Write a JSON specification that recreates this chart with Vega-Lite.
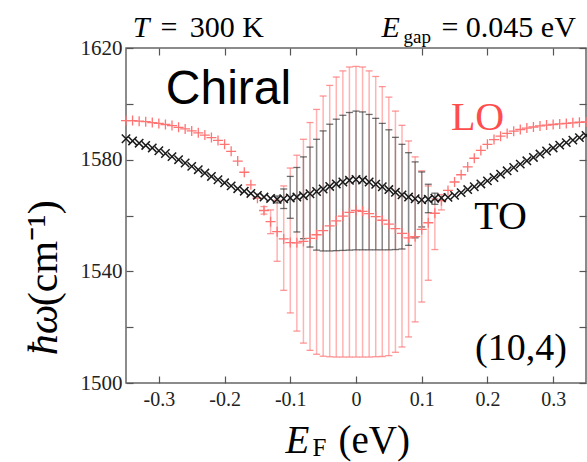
{
  "$schema": "https://vega.github.io/schema/vega-lite/v6.json",
  "width": 460,
  "height": 335,
  "autosize": {"type": "none"},
  "padding": {"left": 126, "top": 48, "right": 1, "bottom": 79},
  "background": "white",
  "config": {
    "view": {"stroke": "#666666", "strokeWidth": 1.5},
    "axis": {"labelFont": "Liberation Serif", "labelFontSize": 20, "labelColor": "#222222", "tickColor": "#555555", "tickWidth": 1.2, "tickSize": -7, "domain": false, "grid": false, "title": null}
  },
  "datasets": {
    "pts": [
      {"m":"LO","E":-0.35,"w":1594.0,"lo":1594.0,"hi":1594.0},
      {"m":"LO","E":-0.34,"w":1594.0,"lo":1594.0,"hi":1594.0},
      {"m":"LO","E":-0.33,"w":1593.8,"lo":1593.8,"hi":1593.8},
      {"m":"LO","E":-0.32,"w":1593.6,"lo":1593.6,"hi":1593.6},
      {"m":"LO","E":-0.31,"w":1593.3,"lo":1593.3,"hi":1593.3},
      {"m":"LO","E":-0.30,"w":1593.0,"lo":1593.0,"hi":1593.0},
      {"m":"LO","E":-0.29,"w":1592.6,"lo":1592.6,"hi":1592.6},
      {"m":"LO","E":-0.28,"w":1592.2,"lo":1592.2,"hi":1592.2},
      {"m":"LO","E":-0.27,"w":1591.6,"lo":1591.6,"hi":1591.6},
      {"m":"LO","E":-0.26,"w":1591.0,"lo":1591.0,"hi":1591.0},
      {"m":"LO","E":-0.25,"w":1590.3,"lo":1590.3,"hi":1590.3},
      {"m":"LO","E":-0.24,"w":1589.6,"lo":1589.6,"hi":1589.6},
      {"m":"LO","E":-0.23,"w":1588.8,"lo":1588.8,"hi":1588.8},
      {"m":"LO","E":-0.22,"w":1587.9,"lo":1587.9,"hi":1587.9},
      {"m":"LO","E":-0.21,"w":1586.9,"lo":1586.9,"hi":1586.9},
      {"m":"LO","E":-0.20,"w":1585.5,"lo":1585.5,"hi":1585.5},
      {"m":"LO","E":-0.19,"w":1583.0,"lo":1583.0,"hi":1583.0},
      {"m":"LO","E":-0.18,"w":1579.5,"lo":1579.5,"hi":1579.5},
      {"m":"LO","E":-0.17,"w":1575.5,"lo":1575.5,"hi":1575.5},
      {"m":"LO","E":-0.16,"w":1571.0,"lo":1571.0,"hi":1571.0},
      {"m":"LO","E":-0.15,"w":1566.2,"lo":1566.2,"hi":1566.2},
      {"m":"LO","E":-0.14,"w":1561.8,"lo":1560.5,"hi":1563.2},
      {"m":"LO","E":-0.13,"w":1557.8,"lo":1553.5,"hi":1562.0},
      {"m":"LO","E":-0.12,"w":1554.2,"lo":1543.6,"hi":1565.5},
      {"m":"LO","E":-0.11,"w":1551.6,"lo":1533.2,"hi":1570.6},
      {"m":"LO","E":-0.10,"w":1550.3,"lo":1525.1,"hi":1577.0},
      {"m":"LO","E":-0.09,"w":1550.2,"lo":1518.6,"hi":1581.6},
      {"m":"LO","E":-0.08,"w":1550.7,"lo":1514.3,"hi":1587.3},
      {"m":"LO","E":-0.07,"w":1551.8,"lo":1511.7,"hi":1593.3},
      {"m":"LO","E":-0.06,"w":1553.1,"lo":1510.3,"hi":1598.0},
      {"m":"LO","E":-0.05,"w":1554.6,"lo":1509.6,"hi":1602.8},
      {"m":"LO","E":-0.04,"w":1556.3,"lo":1509.4,"hi":1606.6},
      {"m":"LO","E":-0.03,"w":1558.1,"lo":1509.3,"hi":1609.6},
      {"m":"LO","E":-0.02,"w":1559.8,"lo":1509.3,"hi":1611.8},
      {"m":"LO","E":-0.01,"w":1561.1,"lo":1509.3,"hi":1613.2},
      {"m":"LO","E":0.00,"w":1561.8,"lo":1509.3,"hi":1613.4},
      {"m":"LO","E":0.01,"w":1561.5,"lo":1509.3,"hi":1613.2},
      {"m":"LO","E":0.02,"w":1560.7,"lo":1509.3,"hi":1611.8},
      {"m":"LO","E":0.03,"w":1559.6,"lo":1509.4,"hi":1609.8},
      {"m":"LO","E":0.04,"w":1558.3,"lo":1509.5,"hi":1606.2},
      {"m":"LO","E":0.05,"w":1556.9,"lo":1509.8,"hi":1602.4},
      {"m":"LO","E":0.06,"w":1555.3,"lo":1511.0,"hi":1597.4},
      {"m":"LO","E":0.07,"w":1553.6,"lo":1512.9,"hi":1592.3},
      {"m":"LO","E":0.08,"w":1552.0,"lo":1516.5,"hi":1586.7},
      {"m":"LO","E":0.09,"w":1552.4,"lo":1521.9,"hi":1581.0},
      {"m":"LO","E":0.10,"w":1555.0,"lo":1529.0,"hi":1576.0},
      {"m":"LO","E":0.11,"w":1557.4,"lo":1536.8,"hi":1570.6},
      {"m":"LO","E":0.12,"w":1560.8,"lo":1547.8,"hi":1566.0},
      {"m":"LO","E":0.13,"w":1565.3,"lo":1562.0,"hi":1567.5},
      {"m":"LO","E":0.14,"w":1569.0,"lo":1569.0,"hi":1569.0},
      {"m":"LO","E":0.15,"w":1572.0,"lo":1572.0,"hi":1572.0},
      {"m":"LO","E":0.16,"w":1574.6,"lo":1574.6,"hi":1574.6},
      {"m":"LO","E":0.17,"w":1577.4,"lo":1577.4,"hi":1577.4},
      {"m":"LO","E":0.18,"w":1580.5,"lo":1580.5,"hi":1580.5},
      {"m":"LO","E":0.19,"w":1583.3,"lo":1583.3,"hi":1583.3},
      {"m":"LO","E":0.20,"w":1585.5,"lo":1585.5,"hi":1585.5},
      {"m":"LO","E":0.21,"w":1587.2,"lo":1587.2,"hi":1587.2},
      {"m":"LO","E":0.22,"w":1588.4,"lo":1588.4,"hi":1588.4},
      {"m":"LO","E":0.23,"w":1589.4,"lo":1589.4,"hi":1589.4},
      {"m":"LO","E":0.24,"w":1590.2,"lo":1590.2,"hi":1590.2},
      {"m":"LO","E":0.25,"w":1590.8,"lo":1590.8,"hi":1590.8},
      {"m":"LO","E":0.26,"w":1591.3,"lo":1591.3,"hi":1591.3},
      {"m":"LO","E":0.27,"w":1591.7,"lo":1591.7,"hi":1591.7},
      {"m":"LO","E":0.28,"w":1592.1,"lo":1592.1,"hi":1592.1},
      {"m":"LO","E":0.29,"w":1592.4,"lo":1592.4,"hi":1592.4},
      {"m":"LO","E":0.30,"w":1592.6,"lo":1592.6,"hi":1592.6},
      {"m":"LO","E":0.31,"w":1592.8,"lo":1592.8,"hi":1592.8},
      {"m":"LO","E":0.32,"w":1593.0,"lo":1593.0,"hi":1593.0},
      {"m":"LO","E":0.33,"w":1593.2,"lo":1593.2,"hi":1593.2},
      {"m":"LO","E":0.34,"w":1593.4,"lo":1593.4,"hi":1593.4},
      {"m":"LO","E":0.35,"w":1593.5,"lo":1593.5,"hi":1593.5},
      {"m":"TO","E":-0.35,"w":1587.5,"lo":1587.5,"hi":1587.5},
      {"m":"TO","E":-0.34,"w":1586.7,"lo":1586.7,"hi":1586.7},
      {"m":"TO","E":-0.33,"w":1585.9,"lo":1585.9,"hi":1585.9},
      {"m":"TO","E":-0.32,"w":1585.1,"lo":1585.1,"hi":1585.1},
      {"m":"TO","E":-0.31,"w":1584.2,"lo":1584.2,"hi":1584.2},
      {"m":"TO","E":-0.30,"w":1583.2,"lo":1583.2,"hi":1583.2},
      {"m":"TO","E":-0.29,"w":1582.2,"lo":1582.2,"hi":1582.2},
      {"m":"TO","E":-0.28,"w":1581.1,"lo":1581.1,"hi":1581.1},
      {"m":"TO","E":-0.27,"w":1580.0,"lo":1580.0,"hi":1580.0},
      {"m":"TO","E":-0.26,"w":1578.8,"lo":1578.8,"hi":1578.8},
      {"m":"TO","E":-0.25,"w":1577.6,"lo":1577.6,"hi":1577.6},
      {"m":"TO","E":-0.24,"w":1576.4,"lo":1576.4,"hi":1576.4},
      {"m":"TO","E":-0.23,"w":1575.2,"lo":1575.2,"hi":1575.2},
      {"m":"TO","E":-0.22,"w":1574.0,"lo":1574.0,"hi":1574.0},
      {"m":"TO","E":-0.21,"w":1572.8,"lo":1572.8,"hi":1572.8},
      {"m":"TO","E":-0.20,"w":1571.7,"lo":1571.7,"hi":1571.7},
      {"m":"TO","E":-0.19,"w":1570.6,"lo":1570.6,"hi":1570.6},
      {"m":"TO","E":-0.18,"w":1569.6,"lo":1569.6,"hi":1569.6},
      {"m":"TO","E":-0.17,"w":1568.7,"lo":1568.7,"hi":1568.7},
      {"m":"TO","E":-0.16,"w":1567.9,"lo":1567.9,"hi":1567.9},
      {"m":"TO","E":-0.15,"w":1567.2,"lo":1567.2,"hi":1567.2},
      {"m":"TO","E":-0.14,"w":1566.6,"lo":1566.6,"hi":1566.6},
      {"m":"TO","E":-0.13,"w":1566.1,"lo":1566.1,"hi":1566.1},
      {"m":"TO","E":-0.12,"w":1565.8,"lo":1564.5,"hi":1567.0},
      {"m":"TO","E":-0.11,"w":1566.0,"lo":1562.5,"hi":1569.5},
      {"m":"TO","E":-0.10,"w":1566.3,"lo":1559.0,"hi":1574.0},
      {"m":"TO","E":-0.09,"w":1566.6,"lo":1554.1,"hi":1577.2},
      {"m":"TO","E":-0.08,"w":1567.1,"lo":1551.7,"hi":1581.0},
      {"m":"TO","E":-0.07,"w":1567.8,"lo":1548.7,"hi":1584.5},
      {"m":"TO","E":-0.06,"w":1568.6,"lo":1547.6,"hi":1587.3},
      {"m":"TO","E":-0.05,"w":1569.5,"lo":1547.3,"hi":1590.3},
      {"m":"TO","E":-0.04,"w":1570.4,"lo":1547.3,"hi":1592.7},
      {"m":"TO","E":-0.03,"w":1571.3,"lo":1547.4,"hi":1594.5},
      {"m":"TO","E":-0.02,"w":1572.0,"lo":1547.5,"hi":1595.9},
      {"m":"TO","E":-0.01,"w":1572.6,"lo":1547.6,"hi":1596.9},
      {"m":"TO","E":0.00,"w":1572.9,"lo":1547.7,"hi":1597.4},
      {"m":"TO","E":0.01,"w":1572.7,"lo":1547.7,"hi":1597.1},
      {"m":"TO","E":0.02,"w":1572.0,"lo":1547.7,"hi":1596.2},
      {"m":"TO","E":0.03,"w":1571.2,"lo":1547.7,"hi":1594.8},
      {"m":"TO","E":0.04,"w":1570.3,"lo":1547.7,"hi":1593.0},
      {"m":"TO","E":0.05,"w":1569.3,"lo":1547.7,"hi":1590.7},
      {"m":"TO","E":0.06,"w":1568.3,"lo":1547.8,"hi":1588.0},
      {"m":"TO","E":0.07,"w":1567.4,"lo":1548.0,"hi":1585.5},
      {"m":"TO","E":0.08,"w":1566.6,"lo":1549.3,"hi":1582.5},
      {"m":"TO","E":0.09,"w":1566.0,"lo":1552.0,"hi":1579.2},
      {"m":"TO","E":0.10,"w":1565.6,"lo":1555.9,"hi":1575.6},
      {"m":"TO","E":0.11,"w":1565.8,"lo":1561.0,"hi":1571.2},
      {"m":"TO","E":0.12,"w":1566.2,"lo":1564.0,"hi":1568.0},
      {"m":"TO","E":0.13,"w":1566.3,"lo":1566.3,"hi":1566.3},
      {"m":"TO","E":0.14,"w":1566.5,"lo":1566.5,"hi":1566.5},
      {"m":"TO","E":0.15,"w":1567.2,"lo":1567.2,"hi":1567.2},
      {"m":"TO","E":0.16,"w":1568.2,"lo":1568.2,"hi":1568.2},
      {"m":"TO","E":0.17,"w":1569.3,"lo":1569.3,"hi":1569.3},
      {"m":"TO","E":0.18,"w":1570.3,"lo":1570.3,"hi":1570.3},
      {"m":"TO","E":0.19,"w":1571.3,"lo":1571.3,"hi":1571.3},
      {"m":"TO","E":0.20,"w":1572.4,"lo":1572.4,"hi":1572.4},
      {"m":"TO","E":0.21,"w":1573.6,"lo":1573.6,"hi":1573.6},
      {"m":"TO","E":0.22,"w":1574.8,"lo":1574.8,"hi":1574.8},
      {"m":"TO","E":0.23,"w":1576.0,"lo":1576.0,"hi":1576.0},
      {"m":"TO","E":0.24,"w":1577.2,"lo":1577.2,"hi":1577.2},
      {"m":"TO","E":0.25,"w":1578.4,"lo":1578.4,"hi":1578.4},
      {"m":"TO","E":0.26,"w":1579.6,"lo":1579.6,"hi":1579.6},
      {"m":"TO","E":0.27,"w":1580.8,"lo":1580.8,"hi":1580.8},
      {"m":"TO","E":0.28,"w":1582.0,"lo":1582.0,"hi":1582.0},
      {"m":"TO","E":0.29,"w":1583.1,"lo":1583.1,"hi":1583.1},
      {"m":"TO","E":0.30,"w":1584.2,"lo":1584.2,"hi":1584.2},
      {"m":"TO","E":0.31,"w":1585.2,"lo":1585.2,"hi":1585.2},
      {"m":"TO","E":0.32,"w":1586.1,"lo":1586.1,"hi":1586.1},
      {"m":"TO","E":0.33,"w":1587.0,"lo":1587.0,"hi":1587.0},
      {"m":"TO","E":0.34,"w":1587.9,"lo":1587.9,"hi":1587.9},
      {"m":"TO","E":0.35,"w":1588.7,"lo":1588.7,"hi":1588.7}
    ]
  },
  "layer": [
    {
      "data": {"name": "pts"},
      "layer": [
        {
          "transform": [{"filter": "datum.m == 'LO' && datum.hi > datum.lo"}],
          "mark": {"type": "rule", "color": "#ffb3b3", "strokeWidth": 1.5},
          "encoding": {
            "x": {"field": "E", "type": "quantitative", "scale": {"domain": [-0.35, 0.35], "nice": false, "zero": false},
              "axis": {"orient": "bottom", "values": [-0.3, -0.2, -0.1, 0, 0.1, 0.2, 0.3], "labelPadding": 13,
                "labelFont": "Liberation Serif", "labelFontSize": 20,
                "labelExpr": "abs(datum.value) < 1e-9 ? '0' : replace(format(datum.value, '.1f'), '\u2212', '-')"}},
            "y": {"field": "lo", "type": "quantitative", "scale": {"domain": [1500, 1620], "nice": false, "zero": false},
              "axis": {"orient": "left", "values": [1500, 1520, 1540, 1560, 1580, 1600, 1620], "labelPadding": 11,
                "labelFont": "Liberation Serif", "labelFontSize": 21,
                "labelExpr": "(datum.value - 1500) % 40 == 0 ? '' + datum.value : ''"}},
            "y2": {"field": "hi"}
          }
        },
        {
          "transform": [{"filter": "datum.m == 'TO' && datum.hi > datum.lo"}],
          "mark": {"type": "rule", "color": "#8a8a8a", "strokeWidth": 1.4},
          "encoding": {
            "x": {"field": "E", "type": "quantitative", "scale": {"domain": [-0.35, 0.35], "nice": false, "zero": false}},
            "y": {"field": "lo", "type": "quantitative", "scale": {"domain": [1500, 1620], "nice": false, "zero": false}},
            "y2": {"field": "hi"}
          }
        },
        {
          "transform": [{"filter": "datum.m == 'LO' && datum.hi > datum.lo"}],
          "mark": {"type": "tick", "orient": "horizontal", "color": "#ff6a6a", "size": 7, "thickness": 1.3},
          "encoding": {
            "x": {"field": "E", "type": "quantitative", "scale": {"domain": [-0.35, 0.35], "nice": false, "zero": false}},
            "y": {"field": "lo", "type": "quantitative", "scale": {"domain": [1500, 1620], "nice": false, "zero": false}}
          }
        },
        {
          "transform": [{"filter": "datum.m == 'LO' && datum.hi > datum.lo"}],
          "mark": {"type": "tick", "orient": "horizontal", "color": "#ff6a6a", "size": 7, "thickness": 1.3},
          "encoding": {
            "x": {"field": "E", "type": "quantitative", "scale": {"domain": [-0.35, 0.35], "nice": false, "zero": false}},
            "y": {"field": "hi", "type": "quantitative", "scale": {"domain": [1500, 1620], "nice": false, "zero": false}}
          }
        },
        {
          "transform": [{"filter": "datum.m == 'TO' && datum.hi > datum.lo"}],
          "mark": {"type": "tick", "orient": "horizontal", "color": "#333333", "size": 7, "thickness": 1.3},
          "encoding": {
            "x": {"field": "E", "type": "quantitative", "scale": {"domain": [-0.35, 0.35], "nice": false, "zero": false}},
            "y": {"field": "lo", "type": "quantitative", "scale": {"domain": [1500, 1620], "nice": false, "zero": false}}
          }
        },
        {
          "transform": [{"filter": "datum.m == 'TO' && datum.hi > datum.lo"}],
          "mark": {"type": "tick", "orient": "horizontal", "color": "#333333", "size": 7, "thickness": 1.3},
          "encoding": {
            "x": {"field": "E", "type": "quantitative", "scale": {"domain": [-0.35, 0.35], "nice": false, "zero": false}},
            "y": {"field": "hi", "type": "quantitative", "scale": {"domain": [1500, 1620], "nice": false, "zero": false}}
          }
        },
        {
          "transform": [{"filter": "datum.m == 'LO'"}],
          "mark": {"type": "point", "shape": "M-1,0L1,0M0,-1L0,1", "filled": false, "stroke": "#ff7373", "strokeWidth": 1.3, "size": 100, "opacity": 1},
          "encoding": {
            "x": {"field": "E", "type": "quantitative", "scale": {"domain": [-0.35, 0.35], "nice": false, "zero": false}},
            "y": {"field": "w", "type": "quantitative", "scale": {"domain": [1500, 1620], "nice": false, "zero": false}}
          }
        },
        {
          "transform": [{"filter": "datum.m == 'TO'"}],
          "mark": {"type": "point", "shape": "M-1,-1L1,1M-1,1L1,-1", "filled": false, "stroke": "#1a1a1a", "strokeWidth": 1.5, "size": 70, "opacity": 1},
          "encoding": {
            "x": {"field": "E", "type": "quantitative", "scale": {"domain": [-0.35, 0.35], "nice": false, "zero": false}},
            "y": {"field": "w", "type": "quantitative", "scale": {"domain": [1500, 1620], "nice": false, "zero": false}}
          }
        }
      ]
    },
    {
      "data": {"name": "pts"},
      "mark": {"type": "point", "opacity": 0},
      "encoding": {
        "x": {"field": "E", "type": "quantitative", "scale": {"domain": [-0.35, 0.35], "nice": false, "zero": false},
          "axis": {"orient": "top", "labels": false, "values": [-0.3, -0.2, -0.1, 0, 0.1, 0.2, 0.3]}},
        "y": {"field": "w", "type": "quantitative", "scale": {"domain": [1500, 1620], "nice": false, "zero": false},
          "axis": {"orient": "right", "labels": false, "values": [1500, 1520, 1540, 1560, 1580, 1600, 1620]}}
      }
    },
    {
      "data": {"values": [{}]},
      "layer": [
        {"mark": {"type": "text", "text": "Chiral", "font": "Liberation Sans", "fontSize": 48, "align": "center", "baseline": "middle", "color": "black"},
         "encoding": {"x": {"datum": -0.194, "type": "quantitative", "scale": {"domain": [-0.35, 0.35], "nice": false, "zero": false}, "axis": null},
                      "y": {"datum": 1605.1, "type": "quantitative", "scale": {"domain": [1500, 1620], "nice": false, "zero": false}, "axis": null}}},
        {"mark": {"type": "text", "text": "LO", "font": "Liberation Serif", "fontSize": 40, "align": "center", "baseline": "middle", "color": "#ff4d4d"},
         "encoding": {"x": {"datum": 0.185, "type": "quantitative", "scale": {"domain": [-0.35, 0.35], "nice": false, "zero": false}, "axis": null},
                      "y": {"datum": 1594.8, "type": "quantitative", "scale": {"domain": [1500, 1620], "nice": false, "zero": false}, "axis": null}}},
        {"mark": {"type": "text", "text": "TO", "font": "Liberation Serif", "fontSize": 40, "align": "center", "baseline": "middle", "color": "black"},
         "encoding": {"x": {"datum": 0.220, "type": "quantitative", "scale": {"domain": [-0.35, 0.35], "nice": false, "zero": false}, "axis": null},
                      "y": {"datum": 1559.4, "type": "quantitative", "scale": {"domain": [1500, 1620], "nice": false, "zero": false}, "axis": null}}},
        {"mark": {"type": "text", "text": "(10,4)", "font": "Liberation Serif", "fontSize": 38, "align": "center", "baseline": "middle", "color": "black"},
         "encoding": {"x": {"datum": 0.251, "type": "quantitative", "scale": {"domain": [-0.35, 0.35], "nice": false, "zero": false}, "axis": null},
                      "y": {"datum": 1512.1, "type": "quantitative", "scale": {"domain": [1500, 1620], "nice": false, "zero": false}, "axis": null}}},
        {"mark": {"type": "text", "text": "T", "font": "Liberation Serif", "fontStyle": "italic", "fontSize": 30, "align": "left", "baseline": "alphabetic", "color": "black"},
         "encoding": {"x": {"datum": -0.3397, "type": "quantitative", "scale": {"domain": [-0.35, 0.35], "nice": false, "zero": false}, "axis": null},
                      "y": {"datum": 1623.8, "type": "quantitative", "scale": {"domain": [1500, 1620], "nice": false, "zero": false}, "axis": null}}},
        {"mark": {"type": "text", "text": "=", "font": "Liberation Serif", "fontSize": 30, "align": "left", "baseline": "alphabetic", "color": "black"},
         "encoding": {"x": {"datum": -0.2975, "type": "quantitative", "scale": {"domain": [-0.35, 0.35], "nice": false, "zero": false}, "axis": null},
                      "y": {"datum": 1623.8, "type": "quantitative", "scale": {"domain": [1500, 1620], "nice": false, "zero": false}, "axis": null}}},
        {"mark": {"type": "text", "text": "300 K", "font": "Liberation Serif", "fontSize": 30, "align": "left", "baseline": "alphabetic", "color": "black"},
         "encoding": {"x": {"datum": -0.2530, "type": "quantitative", "scale": {"domain": [-0.35, 0.35], "nice": false, "zero": false}, "axis": null},
                      "y": {"datum": 1623.8, "type": "quantitative", "scale": {"domain": [1500, 1620], "nice": false, "zero": false}, "axis": null}}},
        {"mark": {"type": "text", "text": "E", "font": "Liberation Serif", "fontStyle": "italic", "fontSize": 30, "align": "left", "baseline": "alphabetic", "color": "black"},
         "encoding": {"x": {"datum": 0.0388, "type": "quantitative", "scale": {"domain": [-0.35, 0.35], "nice": false, "zero": false}, "axis": null},
                      "y": {"datum": 1623.8, "type": "quantitative", "scale": {"domain": [1500, 1620], "nice": false, "zero": false}, "axis": null}}},
        {"mark": {"type": "text", "text": "gap", "font": "Liberation Serif", "fontSize": 19, "align": "left", "baseline": "alphabetic", "color": "black"},
         "encoding": {"x": {"datum": 0.0722, "type": "quantitative", "scale": {"domain": [-0.35, 0.35], "nice": false, "zero": false}, "axis": null},
                      "y": {"datum": 1621.7, "type": "quantitative", "scale": {"domain": [1500, 1620], "nice": false, "zero": false}, "axis": null}}},
        {"mark": {"type": "text", "text": "= 0.045 eV", "font": "Liberation Serif", "fontSize": 30, "align": "left", "baseline": "alphabetic", "color": "black"},
         "encoding": {"x": {"datum": 0.130, "type": "quantitative", "scale": {"domain": [-0.35, 0.35], "nice": false, "zero": false}, "axis": null},
                      "y": {"datum": 1623.8, "type": "quantitative", "scale": {"domain": [1500, 1620], "nice": false, "zero": false}, "axis": null}}},
        {"mark": {"type": "text", "text": "E", "font": "Liberation Serif", "fontStyle": "italic", "fontSize": 39, "align": "left", "baseline": "alphabetic", "color": "black"},
         "encoding": {"x": {"datum": -0.1071, "type": "quantitative", "scale": {"domain": [-0.35, 0.35], "nice": false, "zero": false}, "axis": null},
                      "y": {"datum": 1474.8, "type": "quantitative", "scale": {"domain": [1500, 1620], "nice": false, "zero": false}, "axis": null}}},
        {"mark": {"type": "text", "text": "F", "font": "Liberation Serif", "fontSize": 25, "align": "left", "baseline": "alphabetic", "color": "black"},
         "encoding": {"x": {"datum": -0.0661, "type": "quantitative", "scale": {"domain": [-0.35, 0.35], "nice": false, "zero": false}, "axis": null},
                      "y": {"datum": 1473.7, "type": "quantitative", "scale": {"domain": [1500, 1620], "nice": false, "zero": false}, "axis": null}}},
        {"mark": {"type": "text", "text": "(eV)", "font": "Liberation Serif", "fontSize": 39, "align": "left", "baseline": "alphabetic", "color": "black"},
         "encoding": {"x": {"datum": -0.0266, "type": "quantitative", "scale": {"domain": [-0.35, 0.35], "nice": false, "zero": false}, "axis": null},
                      "y": {"datum": 1474.8, "type": "quantitative", "scale": {"domain": [1500, 1620], "nice": false, "zero": false}, "axis": null}}},
        {"mark": {"type": "text", "text": "ħω", "font": "Liberation Serif", "fontStyle": "italic", "fontSize": 42, "align": "left", "baseline": "alphabetic", "angle": 270, "color": "black"},
         "encoding": {"x": {"datum": -0.4552, "type": "quantitative", "scale": {"domain": [-0.35, 0.35], "nice": false, "zero": false}, "axis": null},
                      "y": {"datum": 1509.9, "type": "quantitative", "scale": {"domain": [1500, 1620], "nice": false, "zero": false}, "axis": null}}},
        {"mark": {"type": "text", "text": "(cm⁻¹)", "font": "Liberation Serif", "fontSize": 42, "align": "left", "baseline": "alphabetic", "angle": 270, "color": "black"},
         "encoding": {"x": {"datum": -0.4552, "type": "quantitative", "scale": {"domain": [-0.35, 0.35], "nice": false, "zero": false}, "axis": null},
                      "y": {"datum": 1527.5, "type": "quantitative", "scale": {"domain": [1500, 1620], "nice": false, "zero": false}, "axis": null}}}
      ]
    }
  ],
  "resolve": {"axis": {"x": "independent", "y": "independent"}}
}
